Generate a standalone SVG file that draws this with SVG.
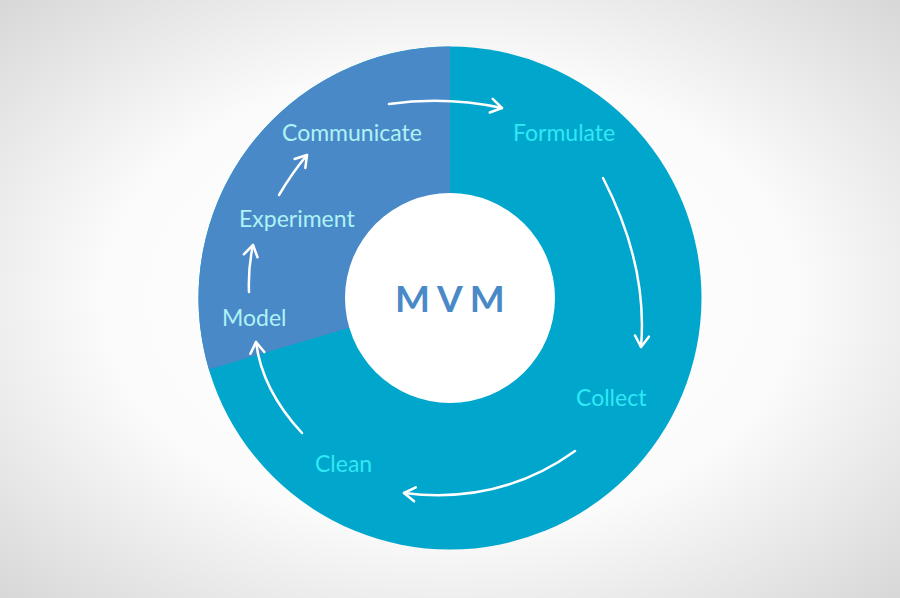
<svg xmlns="http://www.w3.org/2000/svg" width="900" height="598" viewBox="0 0 900 598">
  <defs>
    <radialGradient id="bg" cx="50%" cy="50%" r="70%">
      <stop offset="0" stop-color="#ffffff"/>
      <stop offset="0.55" stop-color="#fbfbfb"/>
      <stop offset="1" stop-color="#d8d8d8"/>
    </radialGradient>
    <marker id="head" viewBox="-14 -9 16 18" markerWidth="16" markerHeight="18" refX="0" refY="0" orient="auto" markerUnits="userSpaceOnUse">
      <path d="M-11,-7 L0,0 L-11,7" fill="none" stroke="#ffffff" stroke-width="2.5" stroke-linecap="round" stroke-linejoin="round"/>
    </marker>
    <style>
      .lbl { font-family: Lato, "Open Sans", "Liberation Sans", sans-serif; font-size: 23px; }
      .pale { fill: #aef2f6; }
      .bright { fill: #30e8f6; }
      .arrow { fill: none; stroke: #ffffff; stroke-width: 2.5; stroke-linecap: round; marker-end: url(#head); }
    </style>
  </defs>
  <rect x="0" y="0" width="900" height="598" fill="url(#bg)"/>

  <g id="ring">
    <circle cx="450" cy="298" r="251.5" fill="#00a6cb"/>
    <path d="M450,298 L450,46.5 A251.5,251.5 0 0 0 208.9,369.4 Z" fill="#4a89c7"/>
    <circle cx="450" cy="298" r="105" fill="#ffffff"/>
  </g>

  <g id="center">
    <text x="395" y="312" font-family="Lato, 'Open Sans', 'Liberation Sans', sans-serif" font-size="37" font-weight="700" letter-spacing="7" fill="#4a89c7">MVM</text>
  </g>

  <g id="communicate"><text class="lbl pale" x="282" y="141">Communicate</text></g>
  <g id="formulate"><text class="lbl bright" x="513" y="141">Formulate</text></g>
  <g id="collect"><text class="lbl bright" x="576" y="406">Collect</text></g>
  <g id="clean"><text class="lbl bright" x="315" y="472">Clean</text></g>
  <g id="model"><text class="lbl pale" x="222" y="326">Model</text></g>
  <g id="experiment"><text class="lbl pale" x="239" y="227">Experiment</text></g>

  <g id="connectors">
    <path class="arrow" d="M389,104 Q446,96 502,108"/>
    <path class="arrow" d="M603,178 Q648,265 641,347"/>
    <path class="arrow" d="M575,451 Q500,505 404,493"/>
    <path class="arrow" d="M302,433 Q262,390 256,342"/>
    <path class="arrow" d="M249,292 Q248,268 253,245"/>
    <path class="arrow" d="M279,195 Q292,173 307,155"/>
  </g>
</svg>
